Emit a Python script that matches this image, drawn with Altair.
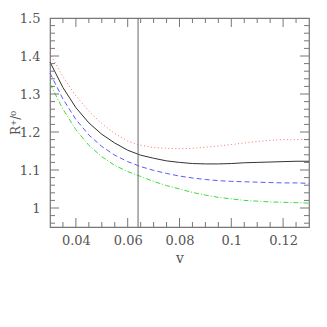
import altair as alt
import pandas as pd

v = [0.03, 0.035, 0.04, 0.045, 0.05, 0.055, 0.06, 0.065, 0.07, 0.075, 0.08,
     0.085, 0.09, 0.095, 0.10, 0.105, 0.11, 0.115, 0.12, 0.125, 0.13]
black = [1.384, 1.317, 1.264, 1.224, 1.194, 1.171, 1.152, 1.139, 1.131, 1.124, 1.120,
         1.117, 1.116, 1.116, 1.117, 1.119, 1.120, 1.121, 1.122, 1.123, 1.123]
red = [1.408, 1.345, 1.295, 1.255, 1.222, 1.196, 1.176, 1.165, 1.159, 1.157, 1.156,
       1.157, 1.160, 1.163, 1.167, 1.171, 1.175, 1.178, 1.180, 1.180, 1.181]
blue = [1.355, 1.287, 1.233, 1.192, 1.162, 1.139, 1.122, 1.109, 1.099, 1.091, 1.084,
        1.079, 1.075, 1.072, 1.070, 1.069, 1.068, 1.067, 1.066, 1.066, 1.065]
green = [1.327, 1.260, 1.206, 1.165, 1.135, 1.112, 1.096, 1.083, 1.070, 1.059, 1.050,
         1.041, 1.034, 1.028, 1.024, 1.020, 1.018, 1.016, 1.015, 1.014, 1.013]
vline = [0.064]

x_labels = [0.04, 0.06, 0.08, 0.10, 0.12]
y_labels = [1.0, 1.1, 1.2, 1.3, 1.4, 1.5]
x_major = [0.04, 0.06, 0.08, 0.10, 0.12]
x_minor = [0.035, 0.045, 0.05, 0.055, 0.065, 0.07, 0.075, 0.085, 0.09, 0.095,
           0.105, 0.11, 0.115, 0.125]
y_major = [1.0, 1.1, 1.2, 1.3, 1.4]
y_minor = [0.96, 0.98, 1.02, 1.04, 1.06, 1.08, 1.12, 1.14, 1.16, 1.18, 1.22, 1.24,
           1.26, 1.28, 1.32, 1.34, 1.36, 1.38, 1.42, 1.44, 1.46, 1.48]

W, H = 259, 209
FONT = "DejaVu Serif"
AX = "#777777"
TXT = "#555555"

xs = alt.Scale(domain=[0.03, 0.13], nice=False, zero=False)
ys = alt.Scale(domain=[0.95, 1.5], nice=False, zero=False)

rows = []
for name, vals in [("black", black), ("red", red), ("blue", blue), ("green", green)]:
    for a, b in zip(v, vals):
        rows.append({"v": a, "R": b, "s": name})
df = pd.DataFrame(rows)

xaxis = alt.Axis(values=x_labels, format="~g", title="v", ticks=False,
                 tickSize=0, domain=False, grid=False, labelFont=FONT,
                 labelFontSize=13, labelColor=TXT, labelPadding=7,
                 titleFont=FONT, titleFontSize=14, titleFontWeight="normal",
                 titleColor=TXT, titlePadding=4)
yaxis = alt.Axis(values=y_labels, format="~g", title="R⁺/⁰", ticks=False,
                 tickSize=0, domain=False, grid=False, labelFont=FONT,
                 labelFontSize=13, labelColor=TXT, labelPadding=10,
                 titleFont=FONT, titleFontSize=12, titleFontWeight="normal",
                 titleColor=TXT, titleX=-31, titleY=H / 2, titleAngle=270,
                 titleBaseline="alphabetic", titleAlign="center")

def curve(name, color, dash, width=1.0):
    m = dict(color=color, strokeWidth=width)
    if dash:
        m["strokeDash"] = dash
    return alt.Chart(df).transform_filter(alt.datum.s == name).mark_line(**m).encode(
        x=alt.X("v:Q", scale=xs, axis=xaxis),
        y=alt.Y("R:Q", scale=ys, axis=yaxis))

layers = [
    curve("red", "#ff7070", [1, 2.5]),
    curve("black", "#333333", None),
    curve("blue", "#5a5aff", [5, 3]),
    curve("green", "#3ed93e", [5, 2, 1, 2]),
]

vl = alt.Chart(pd.DataFrame({"v": vline})).mark_rule(color="#666", strokeWidth=1).encode(
    x=alt.X("v:Q", scale=xs))

xmaj = pd.DataFrame({"v": x_major})
xmin = pd.DataFrame({"v": x_minor})
ymaj = pd.DataFrame({"R": y_major})
ymin = pd.DataFrame({"R": y_minor})

def xticks(d, length):
    b = alt.Chart(d).mark_rule(color=AX, strokeWidth=1).encode(
        x=alt.X("v:Q", scale=xs), y=alt.value(H), y2=alt.value(H - length))
    t = alt.Chart(d).mark_rule(color=AX, strokeWidth=1).encode(
        x=alt.X("v:Q", scale=xs), y=alt.value(0), y2=alt.value(length))
    return [b, t]

def yticks(d, length):
    l = alt.Chart(d).mark_rule(color=AX, strokeWidth=1).encode(
        y=alt.Y("R:Q", scale=ys), x=alt.value(0), x2=alt.value(length))
    r = alt.Chart(d).mark_rule(color=AX, strokeWidth=1).encode(
        y=alt.Y("R:Q", scale=ys), x=alt.value(W), x2=alt.value(W - length))
    return [l, r]

ticks = xticks(xmaj, 9) + xticks(xmin, 5) + yticks(ymaj, 9) + yticks(ymin, 5)

chart = alt.layer(*layers, vl, *ticks).properties(
    width=W, height=H,
    autosize=alt.AutoSizeParams(type="none"),
    padding={"left": 42, "top": 10, "right": 10, "bottom": 60},
).configure_view(stroke=AX, strokeWidth=1.2)

chart.save("out.html", embed_options={"renderer": "svg", "actions": False})
